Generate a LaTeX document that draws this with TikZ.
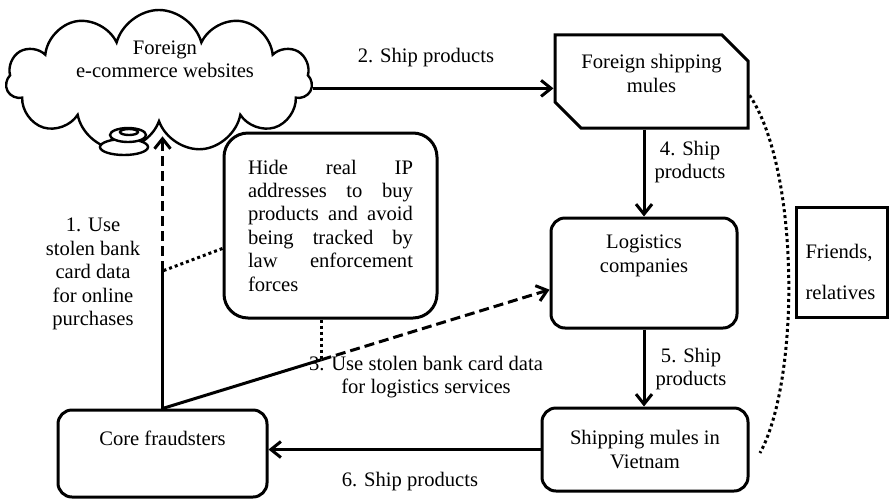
\documentclass[tikz,border=0pt]{standalone}
\usepackage{fontspec}
\setmainfont{Liberation Serif}
\usetikzlibrary{shapes.symbols,shapes.misc,arrows.meta,calc}

\tikzset{
  box/.style={draw, line width=1.5pt, rounded corners=7pt, align=center, inner sep=2pt},
  flow/.style={line width=1.5pt, ->},
  dashflow/.style={flow, dash pattern=on 5pt off 2.5pt},
  link/.style={line width=1.5pt, dash pattern=on 1.5pt off 1.5pt},
  lbl/.style={align=center, inner sep=0pt}
}

\begin{document}
\begin{tikzpicture}[x=0.5pt, y=-0.5pt, >={Straight Barb[length=5pt,width=8pt]},
    font=\fontsize{10.3}{11.7}\selectfont]
  \useasboundingbox (0,0) rectangle (889,499);

  \node[cloud, draw, line width=1.2pt, cloud puffs=11, cloud ignores aspect,
        minimum width=153pt, minimum height=71pt] (web) at (159,81) {};
  \node[lbl] (webtxt) at (165,59) {Foreign\\e-commerce websites};
  % thought bubble under the cloud
  \draw[line width=1.2pt, fill=white] (124,147) ellipse (12pt and 4pt);
  \draw[line width=1.2pt, fill=white] (128,135) ellipse (9pt and 3.5pt);
  \draw[line width=1.2pt] (129,132) ellipse (4.5pt and 1.5pt);

  \node[chamfered rectangle, chamfered rectangle corners={north east,south west},
        chamfered rectangle xsep=6.5pt, chamfered rectangle ysep=6.5pt,
        draw, line width=1.5pt, align=center, minimum width=96.5pt,
        minimum height=41.5pt, text depth=8pt] (fsm) at (651.5,81.5) {Foreign shipping\\mules};
  \node[box, minimum width=93pt, minimum height=55pt, text depth=19.5pt] (log) at (644,273) {Logistics\\companies};
  \node[box, minimum width=103pt, minimum height=41.5pt] (vn) at (645,449.5) {Shipping mules in\\Vietnam};
  \node[box, minimum width=104.5pt, minimum height=43.5pt, text depth=15.6pt] (core) at (162.5,453.5) {Core fraudsters};
  \node[box, rounded corners=12pt, minimum width=106.5pt, minimum height=92.5pt,
        text width=82.5pt, align=left] (hide) at (330.5,225.5)
        {Hide\hfill real\hfill IP\\addresses\hfill to\hfill buy\\products\hfill and\hfill avoid\\
         being\hfill tracked\hfill by\\law\hfill enforcement\\forces};
  \node[draw, line width=1.5pt, minimum width=45.5pt, minimum height=55pt, text width=36pt,
        align=left, text depth=10.5pt] (fr) at (841.5,262) {Friends,\\[8.9pt]relatives};

  \node[lbl] (l1) at (93,274) {1. Use\\stolen bank\\card data\\for online\\purchases};
  \node[lbl] (l2) at (426,58) {2. Ship products};
  \node[lbl] (l3) at (426,377) {3. Use stolen bank card data\\for logistics services};
  \node[lbl] (l4) at (690,162) {4. Ship\\products};
  \node[lbl] (l5) at (691,369) {5. Ship\\products};
  \node[lbl] (l6) at (410,482) {6. Ship products};

  \coordinate (j1) at (162.5,271);
  \coordinate (j3) at ($(core.north)!0.411!(log.190)$);
  \coordinate (cend) at (760,453);

  \draw[flow] (web.east |- fsm.184) -- (fsm.184);
  \draw[flow] (fsm.south -| log.north) -- (log.north);
  \draw[flow] (log.south) -- (vn.north -| log.south);
  \draw[flow] (vn.west) -- (vn.west -| core.east);

  % 1 and 3: solid up to the junctions, dashed after
  \draw[line width=1.5pt] (core.north) -- (j1);
  \draw[dashflow] (j1) -- ([yshift=-6pt]j1 |- web.south);
  \draw[line width=1.5pt] (core.north) -- (j3);
  \draw[dashflow] (j3) -- (log.190);

  \draw[link] (hide.192) -- (j1);
  \draw[link] (hide.south -| j3) -- (j3);
  \draw[link] (fsm.-8) .. controls (800,170) and (800,380) .. (cend);
\end{tikzpicture}
\end{document}
